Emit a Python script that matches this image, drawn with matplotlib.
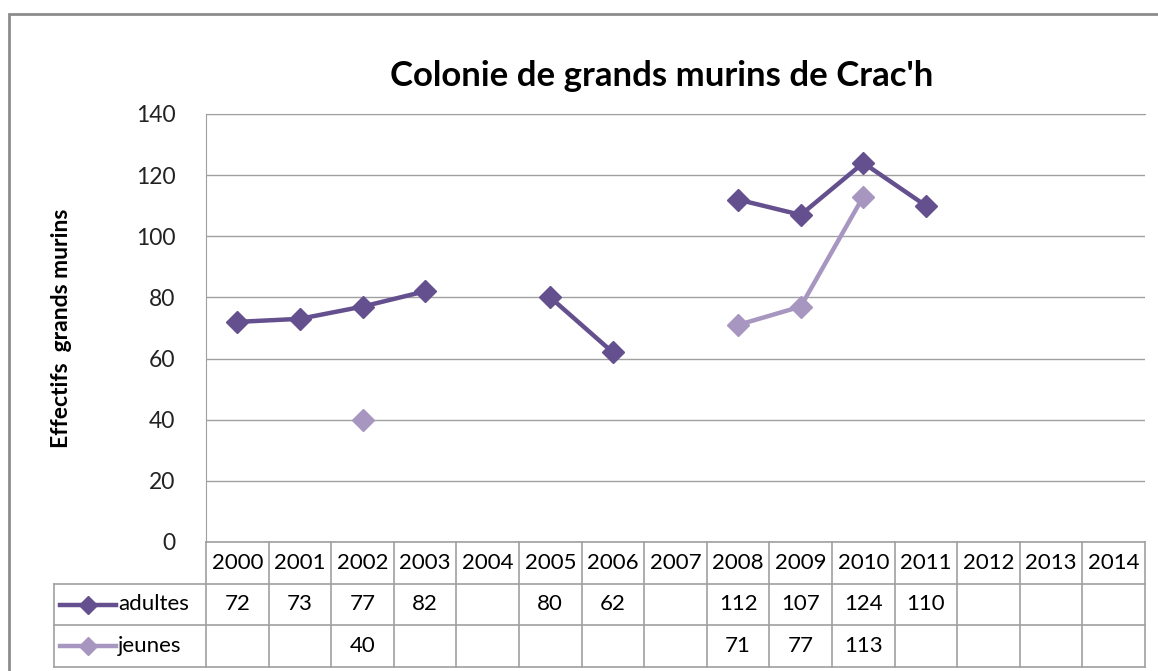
import numpy as np
import matplotlib
matplotlib.use("Agg")
import matplotlib.pyplot as plt
from matplotlib.lines import Line2D
from matplotlib.patches import Rectangle

plt.rcParams['font.family'] = ['Lato', 'DejaVu Sans']

years = [str(y) for y in range(2000, 2015)]
adultes = [72, 73, 77, 82, np.nan, 80, 62, np.nan, 112, 107, 124, 110, np.nan, np.nan, np.nan]
jeunes = [np.nan, np.nan, 40, np.nan, np.nan, np.nan, np.nan, np.nan, 71, 77, 113, np.nan, np.nan, np.nan, np.nan]
series = [("adultes", adultes, "#64508e"), ("jeunes", jeunes, "#a696c0")]

W, H = 1158, 671
fig = plt.figure(figsize=(W / 100, H / 100), dpi=100)


def box(x0, y0, x1, y1):
    # pixel box (top-left origin) -> figure fraction rect
    return [x0 / W, 1 - y1 / H, (x1 - x0) / W, (y1 - y0) / H]


# outer chart border
fig.patches.append(Rectangle((9 / W, -0.1), 1.2, 1 - 14 / H + 0.1, transform=fig.transFigure,
                             fill=False, edgecolor="#8c8c8c", linewidth=2))

px_left, px_right = 206, 1145
ax = fig.add_axes(box(px_left, 114, px_right, 542))
x = np.arange(len(years))
for name, vals, col in series:
    ax.plot(x, vals, color=col, linewidth=3.2, marker="D", markersize=11, clip_on=False)
ax.set_xlim(-0.5, len(years) - 0.5)
ax.set_ylim(0, 140)
ax.set_yticks(range(0, 141, 20))
ax.grid(axis="y", color="#a0a0a0", linewidth=1)
ax.set_axisbelow(True)
ax.set_xticks([])
ax.tick_params(axis="y", length=0, labelsize=16.5, pad=22, labelcolor="#222222")
for s in ["right", "bottom"]:
    ax.spines[s].set_visible(False)
ax.spines["top"].set_color("#a0a0a0")
ax.spines["left"].set_color("#a0a0a0")
ax.set_ylabel("Effectifs  grands murins", fontsize=16.5, fontweight="bold", labelpad=46)
fig.text(662 / W, 1 - 76 / H, "Colonie de grands murins de Crac'h", ha="center", va="center",
         fontsize=25, fontweight="bold")

# data table below the plot
tab = fig.add_axes(box(px_left, 542, px_right, 667))
tab.set_xlim(-0.5, len(years) - 0.5)
tab.set_ylim(3, 0)
tab.axis("off")
unit = (px_right - px_left) / len(years)
left_edge = -0.5 - (px_left - 54) / unit
lc = "#a0a0a0"
tab.plot([-0.5, len(years) - 0.5], [0, 0], color=lc, lw=1.2, clip_on=False)
for r in (1, 2, 3):
    tab.plot([left_edge, len(years) - 0.5], [r, r], color=lc, lw=1.2, clip_on=False)
for i in range(len(years) + 1):
    tab.plot([i - 0.5, i - 0.5], [0, 3], color=lc, lw=1.2, clip_on=False)
tab.plot([left_edge, left_edge], [1, 3], color=lc, lw=1.2, clip_on=False)

fs = 16
for i, yr in enumerate(years):
    tab.text(i, 0.5, yr, ha="center", va="center", fontsize=fs)
for r, (name, vals, col) in enumerate(series, start=1):
    lx0 = left_edge + 6 / unit
    lx1 = left_edge + 62 / unit
    tab.add_line(Line2D([lx0, lx1], [r + 0.5, r + 0.5], color=col, lw=3.2,
                        clip_on=False))
    tab.plot([(lx0 + lx1) / 2], [r + 0.5], marker="D", color=col, markersize=9, clip_on=False)
    tab.text(lx1 + 2 / unit, r + 0.5, name, ha="left", va="center", fontsize=fs)
    for i, v in enumerate(vals):
        if not np.isnan(v):
            tab.text(i, r + 0.5, f"{v:g}", ha="center", va="center", fontsize=fs)

fig.savefig("out.png", dpi=100)
